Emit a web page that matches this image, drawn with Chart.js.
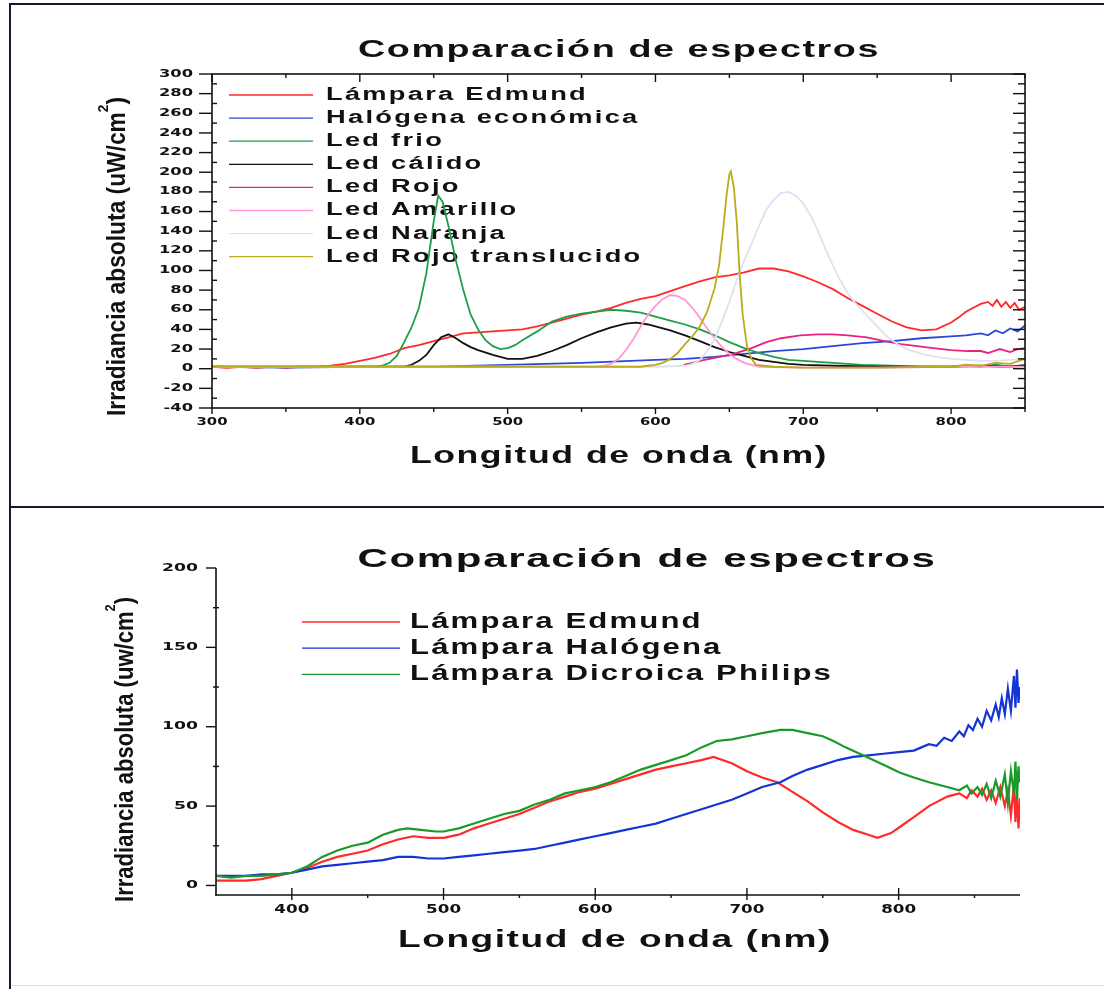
<!DOCTYPE html>
<html><head><meta charset="utf-8">
<script src="https://cdn.jsdelivr.net/npm/chart.js@4.4.1/dist/chart.umd.min.js"></script>
<style>
html,body{margin:0;padding:0;background:#fff;}
#wrap{position:relative;width:1104px;height:989px;overflow:hidden;background:#fff;}
canvas{position:absolute;left:0;}
</style></head><body>
<div id="wrap">
<canvas id="top" width="1104" height="508" style="top:0px"></canvas>
<canvas id="bot" width="1104" height="481" style="top:508px"></canvas>
</div>
<script>
// ---------- texts ----------
const TITLE = 'Comparación de espectros';
const X_TITLE = 'Longitud de onda (nm)';
const TOP_Y_TITLE = ['Irradiancia absoluta (uW/cm', '2', ')'];
const BOT_Y_TITLE = ['Irradiancia absoluta (uw/cm', '2', ')'];

// ---------- top panel ----------
const topLabels = ['Lámpara Edmund','Halógena económica','Led frio','Led cálido','Led Rojo','Led Amarillo','Led Naranja','Led Rojo translucido'];
const topColors = ['#ff2a2a','#2a48d8','#1f9e45','#111111','#e8237d','#ff99d6','#e0e0f2','#b9ab1c'];
const topXTicks = [300,400,500,600,700,800];
const topXMinor = [350,450,550,650,750,850];
const topYTicks = [-40,-20,0,20,40,60,80,100,120,140,160,180,200,220,240,260,280,300];
const topYMinor = [-30,-10,10,30,50,70,90,110,130,150,170,190,210,230,250,270,290];

const edmundTop = [[300,2],[310,1],[320,2],[330,1],[340,2],[350,1],[360,2],[370,2],[380,3],[390,5],[400,8],[410,11],[420,15],[430,21],[440,24],[450,28],[460,32],[470,36],[480,37],[490,38],[500,39],[510,40],[520,43],[530,47],[540,51],[550,55],[560,58],[570,62],[580,67],[590,71],[600,74],[610,79],[620,84],[630,89],[640,93],[650,95],[660,98],[670,102],[680,102],[690,99],[700,94],[710,88],[720,81],[730,72],[740,64],[750,56],[760,48],[770,42],[780,39],[790,40],[800,47],[805,52],[810,58],[815,62],[820,66],[825,68],[828,64],[831,70],[834,63],[837,68],[840,62],[843,67],[846,60],[850,63]];
const halogenaTop = [[300,2],[350,1],[400,2],[450,2],[500,4],[550,6],[600,9],[620,10],[640,12],[660,15],[680,18],[700,20],[720,23],[740,26],[760,28],[780,31],[800,33],[810,34],[820,36],[825,34],[830,39],[835,36],[840,41],[845,38],[850,44]];
const ledFrio = [[300,2],[350,2],[400,2],[410,2],[415,3],[420,6],[425,13],[430,27],[435,42],[440,62],[445,97],[450,150],[453,176],[456,170],[460,145],[465,110],[470,80],[475,55],[480,40],[485,29],[490,23],[495,20],[500,21],[505,24],[510,29],[520,38],[530,48],[540,53],[550,56],[560,58],[570,60],[580,59],[590,57],[600,53],[610,49],[620,45],[630,40],[640,34],[650,27],[660,21],[670,16],[680,12],[690,9],[700,8],[710,7],[720,6],[740,4],[760,3],[780,2],[800,2],[810,3],[820,2],[830,4],[840,2],[850,4]];
const ledCalido = [[300,2],[350,2],[400,2],[430,2],[435,4],[440,8],[445,14],[450,24],[455,32],[460,35],[465,31],[470,26],[475,22],[480,19],[490,14],[500,10],[510,10],[520,13],[530,18],[540,24],[550,31],[560,37],[570,42],[580,46],[587,47],[595,45],[600,43],[610,39],[620,34],[630,28],[640,22],[650,17],[660,13],[670,9],[680,7],[690,5],[700,4],[720,3],[750,2],[800,2],[820,3],[835,2],[850,3]];
const ledRojo = [[619,4],[625,6],[630,8],[640,11],[653,15],[665,21],[675,27],[685,31],[698,34],[710,35],[720,35],[730,34],[743,32],[755,28],[766,25],[777,23],[788,21],[800,19],[811,18],[820,18],[825,16],[833,20],[840,17],[845,20],[850,21]];
const ledAmarillo = [[300,2],[400,2],[500,2],[560,2],[565,3],[570,5],[575,10],[580,19],[585,30],[590,43],[595,55],[600,64],[605,71],[610,75],[615,74],[620,70],[625,62],[630,52],[635,41],[640,31],[645,22],[650,15],[655,10],[660,6],[665,4],[670,2],[700,1],[750,1],[800,2],[850,2]];
const ledNaranja = [[300,2],[400,2],[500,2],[600,2],[620,3],[625,5],[630,9],[635,18],[640,30],[645,48],[650,68],[655,90],[660,110],[665,127],[670,145],[675,162],[680,172],[685,179],[690,180],[695,176],[700,168],[705,156],[710,140],[715,122],[720,105],[725,90],[730,77],[735,67],[740,59],[745,51],[750,43],[755,35],[760,29],[765,24],[770,20],[780,15],[790,12],[800,10],[810,9],[820,8],[830,8],[840,9],[850,10]];
const ledRojoTrans = [[300,2],[400,2],[500,2],[580,2],[590,2],[595,3],[600,4],[605,6],[610,10],[615,16],[620,25],[625,33],[630,43],[635,58],[640,82],[643,105],[646,145],[648,175],[650,198],[651,201],[653,185],[655,150],[657,95],[659,55],[662,22],[665,10],[668,4],[680,2],[700,1],[750,1],[800,2],[810,4],[820,3],[830,6],[840,5],[850,10]];

// ---------- bottom panel ----------
const botLabels = ['Lámpara Edmund','Lámpara Halógena','Lámpara Dicroica Philips'];
const botColors = ['#ff2a2a','#1434d4','#1a9a2a'];
const botXTicks = [400,500,600,700,800];
const botXMinor = [450,550,650,750,850];
const botYTicks = [0,50,100,150,200];
const botYMinor = [25,75,125,175];

const edmundBot = [[350,3],[360,3],[370,3],[380,4],[390,6],[400,8],[410,11],[420,15],[430,18],[440,20],[450,22],[460,26],[470,29],[480,31],[490,30],[500,30],[510,32],[520,36],[530,39],[540,42],[550,45],[560,49],[570,53],[580,56],[590,59],[600,61],[610,64],[620,67],[630,70],[640,73],[650,75],[660,77],[670,79],[678,81],[690,77],[700,72],[710,68],[720,65],[730,59],[740,53],[750,46],[760,40],[770,35],[780,32],[786,30],[795,33],[801,37],[810,43],[820,50],[832,56],[840,58],[845,55],[848,60],[852,56],[855,61],[858,54],[861,60],[864,52],[867,62],[870,50],[872,60],[874,44],[876,63],[877,40],[878,58],[879,36],[880,55]];
const halogenaBot = [[350,6],[360,6],[370,6],[380,7],[390,7],[400,8],[410,10],[420,12],[430,13],[440,14],[450,15],[460,16],[470,18],[480,18],[490,17],[500,17],[510,18],[520,19],[530,20],[540,21],[550,22],[560,23],[570,25],[580,27],[590,29],[600,31],[610,33],[620,35],[630,37],[640,39],[650,42],[660,45],[670,48],[680,51],[690,54],[700,58],[710,62],[722,65],[730,69],[740,73],[750,76],[760,79],[770,81],[780,82],[790,83],[800,84],[810,85],[815,87],[820,89],[825,88],[830,93],[835,91],[840,97],[843,94],[846,101],[849,98],[852,105],[855,100],[858,110],[861,104],[864,114],[866,106],[868,118],[870,108],[872,124],[874,110],[876,132],[877,112],[878,136],[879,115],[880,125]];
const dicroicaBot = [[350,6],[360,5],[370,6],[380,6],[390,7],[400,8],[410,12],[420,18],[430,22],[440,25],[450,27],[460,32],[470,35],[476,36],[485,35],[495,34],[500,34],[510,36],[520,39],[530,42],[540,45],[550,47],[560,51],[570,54],[580,58],[590,60],[600,62],[610,65],[620,69],[630,73],[640,76],[647,78],[660,82],[670,87],[680,91],[690,92],[700,94],[710,96],[722,98],[730,98],[740,96],[750,94],[757,91],[765,87],[779,81],[790,76],[801,71],[810,68],[820,65],[832,62],[840,60],[845,63],[848,58],[852,62],[855,57],[858,64],[861,55],[864,66],[867,56],[870,70],[872,52],[874,72],[876,58],[877,78],[878,54],[879,75],[880,65]];

// ---------- helpers ----------
const INK = '#111111';
function txt(ctx, s, x, y, o){
  ctx.save();
  ctx.fillStyle = o.color || INK;
  ctx.font = (o.weight||'bold') + ' ' + o.size + 'px ' + (o.family||'"Liberation Sans"');
  ctx.letterSpacing = (o.spacing||0) + 'px';
  ctx.textBaseline = o.base || 'alphabetic';
  ctx.textAlign = 'left';
  const w = ctx.measureText(s).width;
  const sx = o.width ? o.width / w : (o.sx || 1);
  const W = w * sx;
  ctx.translate(x, y);
  const off = o.align === 'center' ? -W/2 : (o.align === 'right' ? -W : 0);
  ctx.translate(off, 0);
  ctx.scale(sx, 1);
  ctx.fillText(s, 0, 0);
  ctx.restore();
  return sx;
}
function measure(ctx, s, size, family, spacing){
  ctx.save();
  ctx.font = 'bold ' + size + 'px ' + family;
  ctx.letterSpacing = (spacing||0) + 'px';
  const w = ctx.measureText(s).width;
  ctx.restore();
  return w;
}
function seg(ctx, x1, y1, x2, y2){ ctx.beginPath(); ctx.moveTo(x1,y1); ctx.lineTo(x2,y2); ctx.stroke(); }
function yTitle(ctx, parts, xBase, yStart, yEnd, size, supSize, supRaise){
  ctx.save();
  ctx.fillStyle = INK;
  const f = 'bold ' + size + 'px "Liberation Sans"', fs = 'bold ' + supSize + 'px "Liberation Sans"';
  ctx.font = f; const w1 = ctx.measureText(parts[0]).width, w3 = ctx.measureText(parts[2]).width;
  ctx.font = fs; const w2 = ctx.measureText(parts[1]).width;
  const sx = (yStart - yEnd) / (w1 + w2 + w3);
  ctx.translate(xBase, yStart); ctx.rotate(-Math.PI/2); ctx.scale(sx, 1);
  ctx.textBaseline = 'alphabetic'; ctx.textAlign = 'left';
  ctx.font = f; ctx.fillText(parts[0], 0, 0);
  ctx.font = fs; ctx.fillText(parts[1], w1, -supRaise);
  ctx.font = f; ctx.fillText(parts[2], w1 + w2, 0);
  ctx.restore();
}
function legend(ctx, chart, x1, x2, xt, y0, dy, size, spacing, refIdx, refW, lw){
  const ds = chart.data.datasets;
  const sx = refW / measure(ctx, ds[refIdx].label, size, '"Liberation Sans"', spacing);
  ds.forEach((d, i) => {
    const y = y0 + i * dy;
    ctx.save(); ctx.strokeStyle = d.borderColor; ctx.lineWidth = lw; seg(ctx, x1, y, x2, y); ctx.restore();
    txt(ctx, d.label, xt, y, {size, spacing, sx, base:'middle'});
  });
}

// ---------- layout ----------
const TOP_AREA = {left:212, right:1025, top:74, bottom:408, h:508};
const BOT_AREA = {left:216, right:1020, top:60, bottom:387, h:481};

const topDecor = {
  id:'topDecor',
  beforeDatasetsDraw(chart){
    const ctx = chart.ctx;
    ctx.save();
    ctx.strokeStyle = '#1c1630'; ctx.lineWidth = 2;
    seg(ctx, 9, 4, 1104, 4); seg(ctx, 10, 3, 10, 508); seg(ctx, 9, 507, 1104, 507);
    ctx.restore();
    txt(ctx, TITLE, 619, 57, {size:24, spacing:1, width:522, align:'center'});
    txt(ctx, X_TITLE, 619, 463, {size:23, spacing:1, width:418, align:'center'});
    yTitle(ctx, TOP_Y_TITLE, 125, 416, 97, 25, 15, 17);
    legend(ctx, chart, 229, 313, 326, 95, 23.1, 18, 1.5, 0, 262, 1.3);
  },
  afterDraw(chart){
    const ctx = chart.ctx, xs = chart.scales.x, ys = chart.scales.y, a = chart.chartArea;
    ctx.save();
    ctx.strokeStyle = INK; ctx.lineWidth = 1.6;
    ctx.strokeRect(a.left, a.top, a.right - a.left, a.bottom - a.top);
    ctx.lineWidth = 1.4;
    topYTicks.forEach(v => { const y = ys.getPixelForValue(v); seg(ctx, a.left - 13, y, a.left, y); seg(ctx, a.right - 12, y, a.right, y); });
    topYMinor.forEach(v => { const y = ys.getPixelForValue(v); seg(ctx, a.left, y, a.left + 5, y); seg(ctx, a.right - 7, y, a.right, y); });
    topXTicks.forEach(v => { const x = xs.getPixelForValue(v); seg(ctx, x, a.bottom, x, a.bottom + 6); seg(ctx, x, a.top, x, a.top + 8); });
    topXMinor.forEach(v => { const x = xs.getPixelForValue(v); seg(ctx, x, a.bottom, x, a.bottom + 4); seg(ctx, x, a.top, x, a.top + 4); });
    ctx.restore();
    const fy = measure(ctx, '300', 10, '"DejaVu Sans"');
    topYTicks.forEach(v => txt(ctx, String(v), a.left - 19, ys.getPixelForValue(v), {size:10, family:'"DejaVu Sans"', sx:34/fy, align:'right', base:'middle'}));
    topXTicks.forEach(v => txt(ctx, String(v), xs.getPixelForValue(v), 422, {size:10, family:'"DejaVu Sans"', sx:31/fy, align:'center', base:'middle'}));
  }
};

const botDecor = {
  id:'botDecor',
  beforeDatasetsDraw(chart){
    const ctx = chart.ctx;
    ctx.save();
    ctx.strokeStyle = '#1c1630'; ctx.lineWidth = 2;
    seg(ctx, 10, 0, 10, 481);
    ctx.strokeStyle = '#dcdcdc'; ctx.lineWidth = 1;
    seg(ctx, 12, 477.5, 1104, 477.5);
    ctx.restore();
    txt(ctx, TITLE, 647, 59, {size:26, spacing:1, width:579, align:'center'});
    txt(ctx, X_TITLE, 615, 439, {size:24, spacing:1, width:434, align:'center'});
    yTitle(ctx, BOT_Y_TITLE, 133, 394, 89, 26, 15, 18);
    legend(ctx, chart, 302, 400, 410, 114, 26.2, 22, 1.5, 2, 423, 1.3);
  },
  afterDraw(chart){
    const ctx = chart.ctx, xs = chart.scales.x, ys = chart.scales.y, a = chart.chartArea;
    ctx.save();
    ctx.strokeStyle = INK; ctx.lineWidth = 1.6;
    seg(ctx, a.left, a.top, a.left, a.bottom + 0.8); seg(ctx, a.left - 0.8, a.bottom, a.right, a.bottom);
    ctx.lineWidth = 1.4;
    botYTicks.forEach(v => { const y = ys.getPixelForValue(v); seg(ctx, a.left - 10, y, a.left, y); });
    botYMinor.forEach(v => { const y = ys.getPixelForValue(v); seg(ctx, a.left - 3, y, a.left + 3, y); });
    botXTicks.forEach(v => { const x = xs.getPixelForValue(v); seg(ctx, x, a.bottom - 7, x, a.bottom + 5); });
    botXMinor.forEach(v => { const x = xs.getPixelForValue(v); seg(ctx, x, a.bottom, x, a.bottom + 3); });
    ctx.restore();
    const fy = measure(ctx, '200', 10, '"DejaVu Sans"');
    const f0 = measure(ctx, '0', 10, '"DejaVu Sans"');
    botYTicks.forEach(v => txt(ctx, String(v), a.left - 18, ys.getPixelForValue(v), {size:10, family:'"DejaVu Sans"', sx: v < 10 ? 12/f0 : 36/fy, align:'right', base:'middle'}));
    const fx = measure(ctx, '400', 12, '"DejaVu Sans"');
    botXTicks.forEach(v => txt(ctx, String(v), xs.getPixelForValue(v), 402, {size:12, family:'"DejaVu Sans"', sx:35/fx, align:'center', base:'middle'}));
  }
};

function build(id, labels, colors, series, area, xr, yr, plugin, bw){
  return new Chart(document.getElementById(id), {
    type:'line',
    data:{datasets: series.map((d, i) => ({label:labels[i], data:d, borderColor:colors[i], backgroundColor:colors[i], borderWidth:bw, pointRadius:0, tension:0, fill:false, order:series.length - i}))},
    options:{
      responsive:false, animation:false, devicePixelRatio:1, events:[],
      layout:{padding:{left:0, right:1104 - area.right, top:area.top, bottom:0}},
      plugins:{legend:{display:false}, tooltip:{enabled:false}, title:{display:false}},
      scales:{
        x:{type:'linear', min:xr[0], max:xr[1], grid:{display:false}, border:{display:false}, ticks:{display:false}, afterFit:s => { s.height = area.h - area.bottom; }},
        y:{type:'linear', min:yr[0], max:yr[1], grid:{display:false}, border:{display:false}, ticks:{display:false}, afterFit:s => { s.width = area.left; }}
      }
    },
    plugins:[plugin]
  });
}

build('top', topLabels, topColors, [edmundTop, halogenaTop, ledFrio, ledCalido, ledRojo, ledAmarillo, ledNaranja, ledRojoTrans], TOP_AREA, [300, 850], [-40, 300], topDecor, 1.8);
build('bot', botLabels, botColors, [edmundBot, halogenaBot, dicroicaBot], BOT_AREA, [350, 880], [-6, 200], botDecor, 2.2);
</script>
</body></html>
